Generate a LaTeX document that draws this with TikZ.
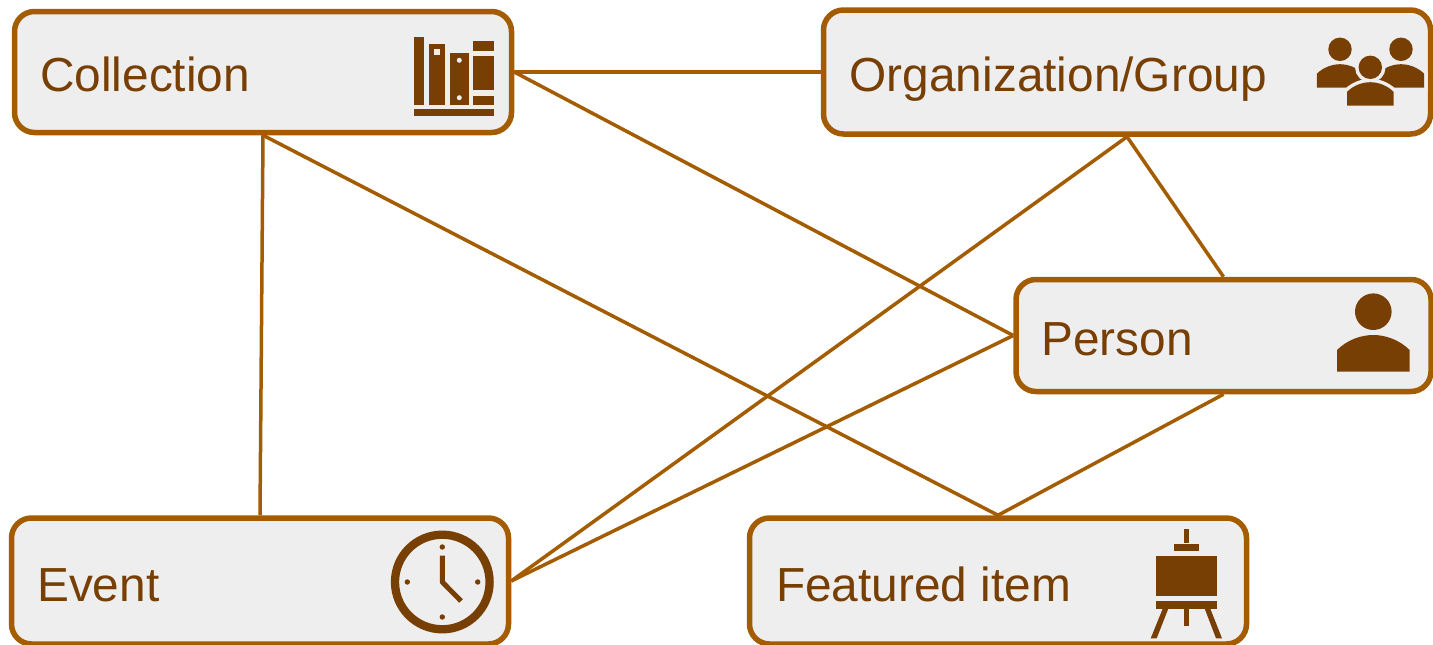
\documentclass[tikz,border=0pt]{standalone}
\usepackage{fontspec}
\setmainfont{Liberation Sans}
\definecolor{linkbrown}{HTML}{A35C00}
\definecolor{inkbrown}{HTML}{783F04}
\definecolor{boxgrey}{HTML}{EEEEEE}
\tikzset{
    personicon/.pic={
        \path[iconhalo] (0,0) circle (18.3);
        \path[iconhalo] (-36.3,60) -- (-36.3,38.3) .. controls (-26,28) and (-12,23.3) .. (0,23.3) .. controls (12,23.3) and (26,28) .. (36.3,38.3) -- (36.3,60) -- cycle;
        \fill[inkbrown] (0,0) circle (18.3);
        \fill[inkbrown] (-36.3,60) -- (-36.3,38.3) .. controls (-26,28) and (-12,23.3) .. (0,23.3) .. controls (12,23.3) and (26,28) .. (36.3,38.3) -- (36.3,60) -- cycle;
    }
}
\begin{document}
\begin{tikzpicture}[
    x=1pt,
    y=-1pt,
    entity/.style={draw=linkbrown, fill=boxgrey, line width=5.5pt, rounded corners=20pt, inner sep=0},
    caption/.style={text=inkbrown, font=\fontsize{47.8}{50}\selectfont, anchor=base west, inner sep=0},
    link/.style={draw=linkbrown, line width=3.5pt},
    iconhalo/.style={draw=boxgrey, line width=7pt}]
\useasboundingbox (0,0) rectangle (1433,645);

\node[entity, minimum width=497pt, minimum height=121pt] (collection) at (263,72) {};
\node[entity, minimum width=607pt, minimum height=124pt] (organization) at (1127,72) {};
\node[entity, minimum width=415pt, minimum height=112pt] (person) at (1223.5,335.5) {};
\node[entity, minimum width=497pt, minimum height=126pt] (event) at (260,581) {};
\node[entity, minimum width=497pt, minimum height=126pt] (featured) at (998,581) {};

\node[caption] (collectionlabel) at (40,91) {Collection};
\node[caption] (organizationlabel) at (849.5,91) {Organization/Group};
\node[caption] (personlabel) at (1041,355) {Person};
\node[caption] (eventlabel) at (37,601) {Event};
\node[caption] (featuredlabel) at (776,601) {Featured item};

\path[link] (collection.east) -- (organization.west);
\path[link] (collection.east) -- (person.west);
\path[link] (collection.south) -- (event.north);
\path[link] (collection.south) -- (featured.north);
\path[link] (organization.south) -- (person.north);
\path[link] (organization.south) -- (event.east);
\path[link] (person.west) -- (event.east);
\path[link] (person.south) -- (featured.north);

\fill[inkbrown] (414.3,36.7) rectangle (424.3,104.7);
\fill[inkbrown] (428.7,43.7) rectangle (445,104.7);
\fill[boxgrey] (433.7,48.7) rectangle (440.3,55.3);
\fill[inkbrown] (450,53.3) rectangle (468.7,104.7);
\fill[boxgrey] (459.3,60.3) circle (2.5);
\fill[boxgrey] (459.3,97.7) circle (2.5);
\fill[inkbrown] (473.3,41.3) rectangle (494.3,50.7);
\fill[inkbrown] (473.3,55.7) rectangle (494.3,90.3);
\fill[inkbrown] (473.3,95.7) rectangle (494.3,104.7);
\fill[inkbrown] (414.3,109.3) rectangle (494.3,116.3);

\pic[scale=0.64] (groupleft) at (1340,49.3) {personicon};
\pic[scale=0.64] (groupright) at (1401,49.3) {personicon};
\pic[scale=0.64] (groupmiddle) at (1370.3,67.3) {personicon};
\pic (personglyph) at (1373.3,311.7) {personicon};

\draw[inkbrown, line width=8.3pt] (442.3,582) circle (47.3);
\draw[inkbrown, line width=5pt] (442.3,555.7) -- (442.3,582) -- (461,601);
\fill[inkbrown] (442.3,547) circle (2.7);
\fill[inkbrown] (442.3,617) circle (2.7);
\fill[inkbrown] (407.3,582) circle (2.7);
\fill[inkbrown] (477.7,582) circle (2.7);

\fill[inkbrown] (1184,529) rectangle (1189.3,543.3);
\fill[inkbrown] (1174,544) rectangle (1199.3,551.3);
\fill[inkbrown] (1156.3,556.3) rectangle (1216.7,596.3);
\fill[inkbrown] (1156.3,601.3) rectangle (1216.7,608.7);
\fill[inkbrown] (1184,608.7) rectangle (1189.3,626);
\fill[inkbrown] (1162.7,608.7) -- (1168.3,608.7) -- (1156.7,638.3) -- (1150.7,638.3) -- cycle;
\fill[inkbrown] (1204.7,608.7) -- (1210.3,608.7) -- (1222,638.3) -- (1216,638.3) -- cycle;

\end{tikzpicture}
\end{document}
